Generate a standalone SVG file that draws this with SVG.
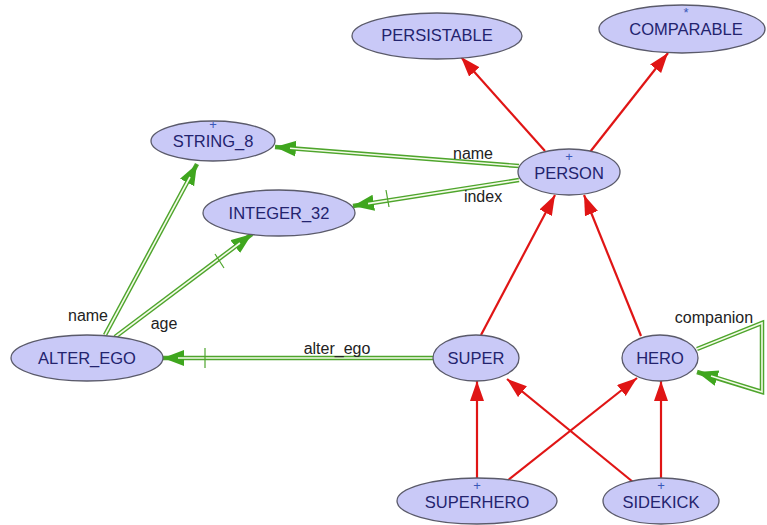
<svg xmlns="http://www.w3.org/2000/svg" width="767" height="525" viewBox="0 0 767 525">
<style>
.n ellipse{fill:#c9c9f7;stroke:#5a5a6a;stroke-width:1.3}
.n text{font-family:"Liberation Sans",Arial,sans-serif;font-size:16.5px;fill:#23236e;text-anchor:middle}
.n .m{font-size:13px;fill:#3a58b8}
.r{stroke:#e01515;stroke-width:2.2;fill:none}
.g{stroke:#4ea52c;stroke-width:4.5;fill:none}
.gi{stroke:#f4fbe8;stroke-width:1.6;fill:none}
.t{stroke:#4ea52c;stroke-width:1.2}
.l{font-family:"Liberation Sans",Arial,sans-serif;font-size:16px;fill:#222}
</style>
<defs>
<marker id="ra" markerUnits="userSpaceOnUse" markerWidth="22" markerHeight="16" refX="20" refY="7" orient="auto"><path d="M0,0 L20,7 L0,14 z" fill="#e01515"/></marker>
<marker id="ga" markerUnits="userSpaceOnUse" markerWidth="24" markerHeight="18" refX="21" refY="8" orient="auto"><path d="M0,0 L21,8 L0,16 z" fill="#3fa61e"/></marker>
</defs>
<rect width="767" height="525" fill="#fff"/>
<g id="connectors">
<line class="r" x1="545" y1="151" x2="461" y2="57" marker-end="url(#ra)"/>
<line class="r" x1="590" y1="152" x2="668" y2="53" marker-end="url(#ra)"/>
<line class="r" x1="481" y1="335" x2="555" y2="195" marker-end="url(#ra)"/>
<line class="r" x1="641" y1="336" x2="584" y2="195" marker-end="url(#ra)"/>
<line class="r" x1="477" y1="478" x2="477" y2="381" marker-end="url(#ra)"/>
<line class="r" x1="507" y1="481" x2="637" y2="378" marker-end="url(#ra)"/>
<line class="r" x1="633" y1="482" x2="507" y2="379" marker-end="url(#ra)"/>
<line class="r" x1="661" y1="478" x2="661" y2="381" marker-end="url(#ra)"/>
<g>
<path class="g" d="M519,166 L275,147" marker-end="url(#ga)"/><path class="gi" d="M519,166 L290,148.2"/>
<path class="g" d="M519,180 L353,206" marker-end="url(#ga)"/><path class="gi" d="M519,180 L368,203.6"/>
<line class="t" x1="386" y1="190" x2="389" y2="207"/>
<path class="g" d="M105,335 L197,164" marker-end="url(#ga)"/><path class="gi" d="M105,335 L190,177"/>
<path class="g" d="M115,337 L252,234" marker-end="url(#ga)"/><path class="gi" d="M115,337 L240,243"/>
<line class="t" x1="215" y1="254" x2="224" y2="268"/>
<path class="g" d="M433,358 L163,358" marker-end="url(#ga)"/><path class="gi" d="M433,358 L178,358"/>
<line class="t" x1="205" y1="348" x2="205" y2="368"/>
<path class="g" d="M697,349 L762,323 L762,392 L697,372" marker-end="url(#ga)"/><path class="gi" d="M697,349 L762,323 L762,392 L711,376"/>
</g>
<text class="l" x="473" y="159" text-anchor="middle">name</text>
<text class="l" x="483" y="202" text-anchor="middle">index</text>
<text class="l" x="88" y="321" text-anchor="middle">name</text>
<text class="l" x="164" y="329" text-anchor="middle">age</text>
<text class="l" x="337" y="354" text-anchor="middle">alter_ego</text>
<text class="l" x="714" y="323" text-anchor="middle">companion</text>
</g>
<g id="PERSISTABLE" class="n"><ellipse cx="437" cy="36" rx="85" ry="23"/><text x="437" y="41">PERSISTABLE</text></g>
<g id="COMPARABLE" class="n"><ellipse cx="682" cy="29" rx="83" ry="24"/><text class="m" x="686" y="17">*</text><text x="686" y="35">COMPARABLE</text></g>
<g id="PERSON" class="n"><ellipse cx="569" cy="172" rx="51" ry="23"/><text class="m" x="569" y="161">+</text><text x="569" y="179">PERSON</text></g>
<g id="STRING_8" class="n"><ellipse cx="213" cy="141" rx="62" ry="20"/><text class="m" x="213" y="129">+</text><text x="213" y="147">STRING_8</text></g>
<g id="INTEGER_32" class="n"><ellipse cx="279" cy="213" rx="76" ry="23"/><text x="279" y="219">INTEGER_32</text></g>
<g id="ALTER_EGO" class="n"><ellipse cx="87" cy="358" rx="76" ry="23"/><text x="87" y="364">ALTER_EGO</text></g>
<g id="SUPER" class="n"><ellipse cx="476" cy="358" rx="43" ry="23"/><text x="476" y="364">SUPER</text></g>
<g id="HERO" class="n"><ellipse cx="660" cy="358" rx="38" ry="23"/><text x="660" y="364">HERO</text></g>
<g id="SUPERHERO" class="n"><ellipse cx="477" cy="501" rx="80" ry="23"/><text class="m" x="477" y="490">+</text><text x="477" y="508">SUPERHERO</text></g>
<g id="SIDEKICK" class="n"><ellipse cx="661" cy="501" rx="58" ry="23"/><text class="m" x="661" y="490">+</text><text x="661" y="508">SIDEKICK</text></g>
</svg>
